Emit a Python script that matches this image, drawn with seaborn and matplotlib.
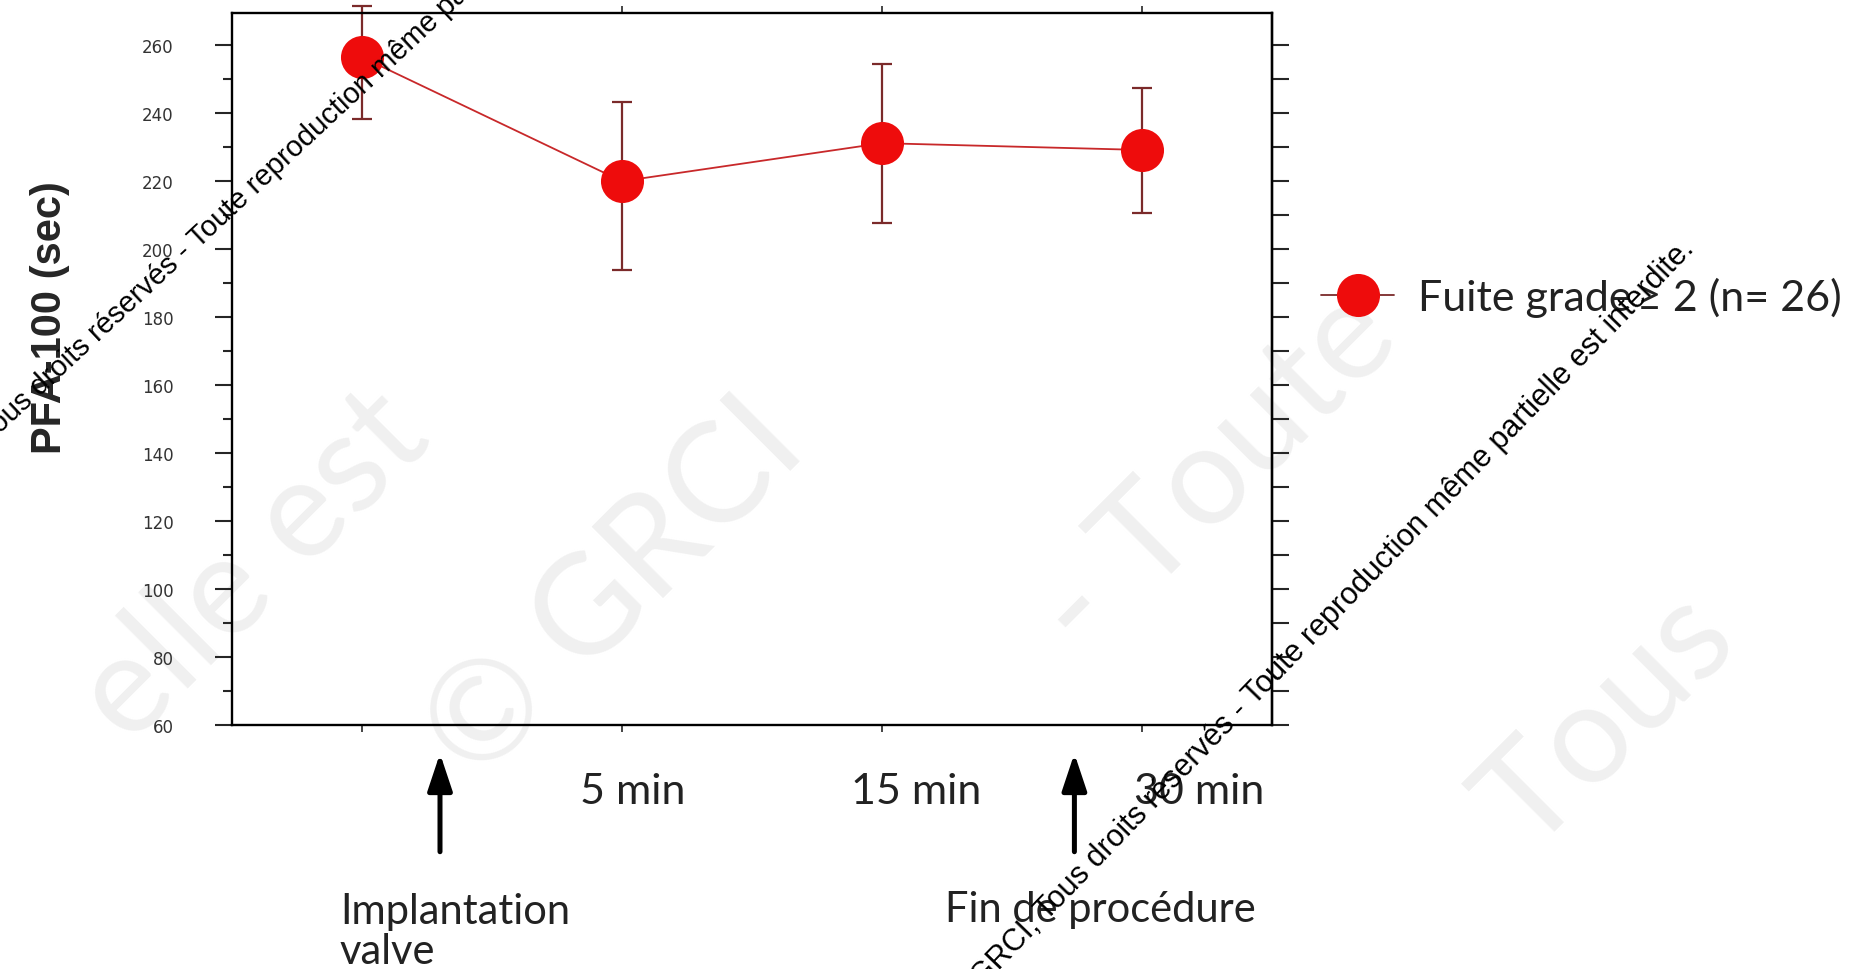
import numpy as np
import pandas as pd
import seaborn as sns
import matplotlib.pyplot as plt
from matplotlib.ticker import MultipleLocator
from matplotlib.transforms import blended_transform_factory

# data
time_points = [0, 1, 2, 3]
time_labels = ['', '5 min', '15 min', '30 min']
pfa_mean = [256.5, 220.0, 231.2, 229.2]
err_low = [238.2, 193.9, 207.6, 210.6]
err_high = [271.5, 243.4, 254.6, 247.4]
series_label = 'Fuite grade\u2009\u2265 2 (n= 26)'
events = ['Implantation\nvalve', 'Fin de proc\u00e9dure']
event_pos = [0.30, 2.74]

df = pd.DataFrame({'time': time_points, 'pfa': pfa_mean})

sns.set_style('ticks')
plt.rcParams['font.family'] = ['DejaVu Sans']

W, H = 1853, 970
fig = plt.figure(figsize=(W / 100, H / 100), dpi=100)
ax = fig.add_axes([232 / W, 1 - 726 / H, 1040 / W, 712 / H])
ax.set_facecolor('none')

# faint background watermark (centres given in 1568-wide preview pixels)
wm_big = [('elle est', 215, 480),
          ('\u00a9 GRCI', 520, 500),
          ('- Toute', 1030, 400),
          ('Tous', 1360, 610)]
for s, xd, yd in wm_big:
    fig.text(xd * 1.1818 / W, 1 - yd * 1.1818 / H, s, rotation=45, ha='center', va='center',
             rotation_mode='anchor', fontsize=100, color='#f0f0f0', family='Lato', zorder=-5)

red = '#ee0c0c'
dark = '#7b2a2a'

yerr = np.array([np.array(pfa_mean) - np.array(err_low), np.array(err_high) - np.array(pfa_mean)])
ax.errorbar(time_points, pfa_mean, yerr=yerr, fmt='none', ecolor=dark, elinewidth=1.6,
            capsize=7, capthick=1.6, zorder=2, clip_on=False)
sns.lineplot(data=df, x='time', y='pfa', ax=ax, color='#c8282a', lw=1.3, zorder=3,
             marker='o', markersize=31, markerfacecolor=red, markeredgecolor=red,
             markeredgewidth=0, label=series_label, legend=False)
for l in ax.lines:
    l.set_clip_on(False)

ax.set_xlim(-0.5, 3.5)
ax.set_ylim(60, 269.5)
ax.yaxis.set_major_locator(MultipleLocator(20))
ax.yaxis.set_minor_locator(MultipleLocator(10))
ax.set_xticks(time_points)
ax.set_xticklabels(['' for _ in time_points])
ax.tick_params(axis='y', which='major', direction='out', length=12, width=1.5, pad=30,
               labelsize=12, labelcolor='#333333')
ax.tick_params(axis='y', which='minor', direction='out', length=6.5, width=1.5)
ax.tick_params(axis='x', which='major', direction='out', length=5, width=1.2,
               top=True, bottom=True)
for sp in ax.spines.values():
    sp.set_linewidth(1.7)
    sp.set_color('black')

right = ax.secondary_yaxis('right')
right.yaxis.set_major_locator(MultipleLocator(10))
right.tick_params(direction='out', length=12, width=1.5, labelright=False)
right.spines['right'].set_linewidth(1.7)

ax.set_xlabel('')
ax.set_ylabel('PFA-100 (sec)', fontsize=30, fontweight='bold', family='Liberation Sans')
ax.yaxis.set_label_coords(-0.156, 0.574)

# time labels, set right of their ticks like the reference
bt = blended_transform_factory(ax.transData, ax.transAxes)
label_shift = [0.0, 0.04, 0.13, 0.22]
for t, lab, dx in zip(time_points, time_labels, label_shift):
    ax.text(t + dx, -0.093, lab, transform=bt, ha='center', va='center',
            fontsize=31, family='Lato', color='#222222')

# event arrows
for ev, xp in zip(events, event_pos):
    ax.annotate('', xy=(xp, -0.040), xytext=(xp, -0.178), xycoords=bt, textcoords=bt,
                annotation_clip=False,
                arrowprops=dict(arrowstyle='-|>,head_width=0.25,head_length=0.75',
                                lw=3.6, color='black', mutation_scale=30, shrinkA=0, shrinkB=0))
ax.text(340 / W, 1 - 932 / H, events[0], transform=fig.transFigure, ha='left', va='center',
        fontsize=30, family='Lato', color='#222222', linespacing=1.05)
ax.text(945 / W, 1 - 910 / H, events[1], transform=fig.transFigure, ha='left', va='center',
        fontsize=30, family='Lato', color='#222222')

# legend
h, l = ax.get_legend_handles_labels()
leg = ax.legend(h, [series_label], loc='center left', bbox_to_anchor=(1321 / W, 1 - 298 / H),
                bbox_transform=fig.transFigure, frameon=False, borderpad=0, borderaxespad=0,
                handlelength=1.7, handletextpad=0.55, prop={'family': 'Lato', 'size': 31})
for t in leg.get_texts():
    t.set_color('#222222')
leg.legend_handles[0].set_color(dark)
leg.legend_handles[0].set_markerfacecolor(red)
leg.legend_handles[0].set_markeredgecolor(red)

# copyright stamp
stamp = '\u00a9 GRCI, Tous droits r\u00e9serv\u00e9s - Toute reproduction m\u00eame partielle est interdite.'
fig.text(268 / W, 1 - 174 / H, stamp, rotation=43, ha='center', va='center', rotation_mode='anchor',
         fontsize=21, family='Liberation Sans', color='black', zorder=10)
fig.text(1322 / W, 1 - 624 / H, stamp, rotation=46, ha='center', va='center', rotation_mode='anchor',
         fontsize=22, family='Liberation Sans', color='black', zorder=10)

fig.savefig('out.png', dpi=100)
